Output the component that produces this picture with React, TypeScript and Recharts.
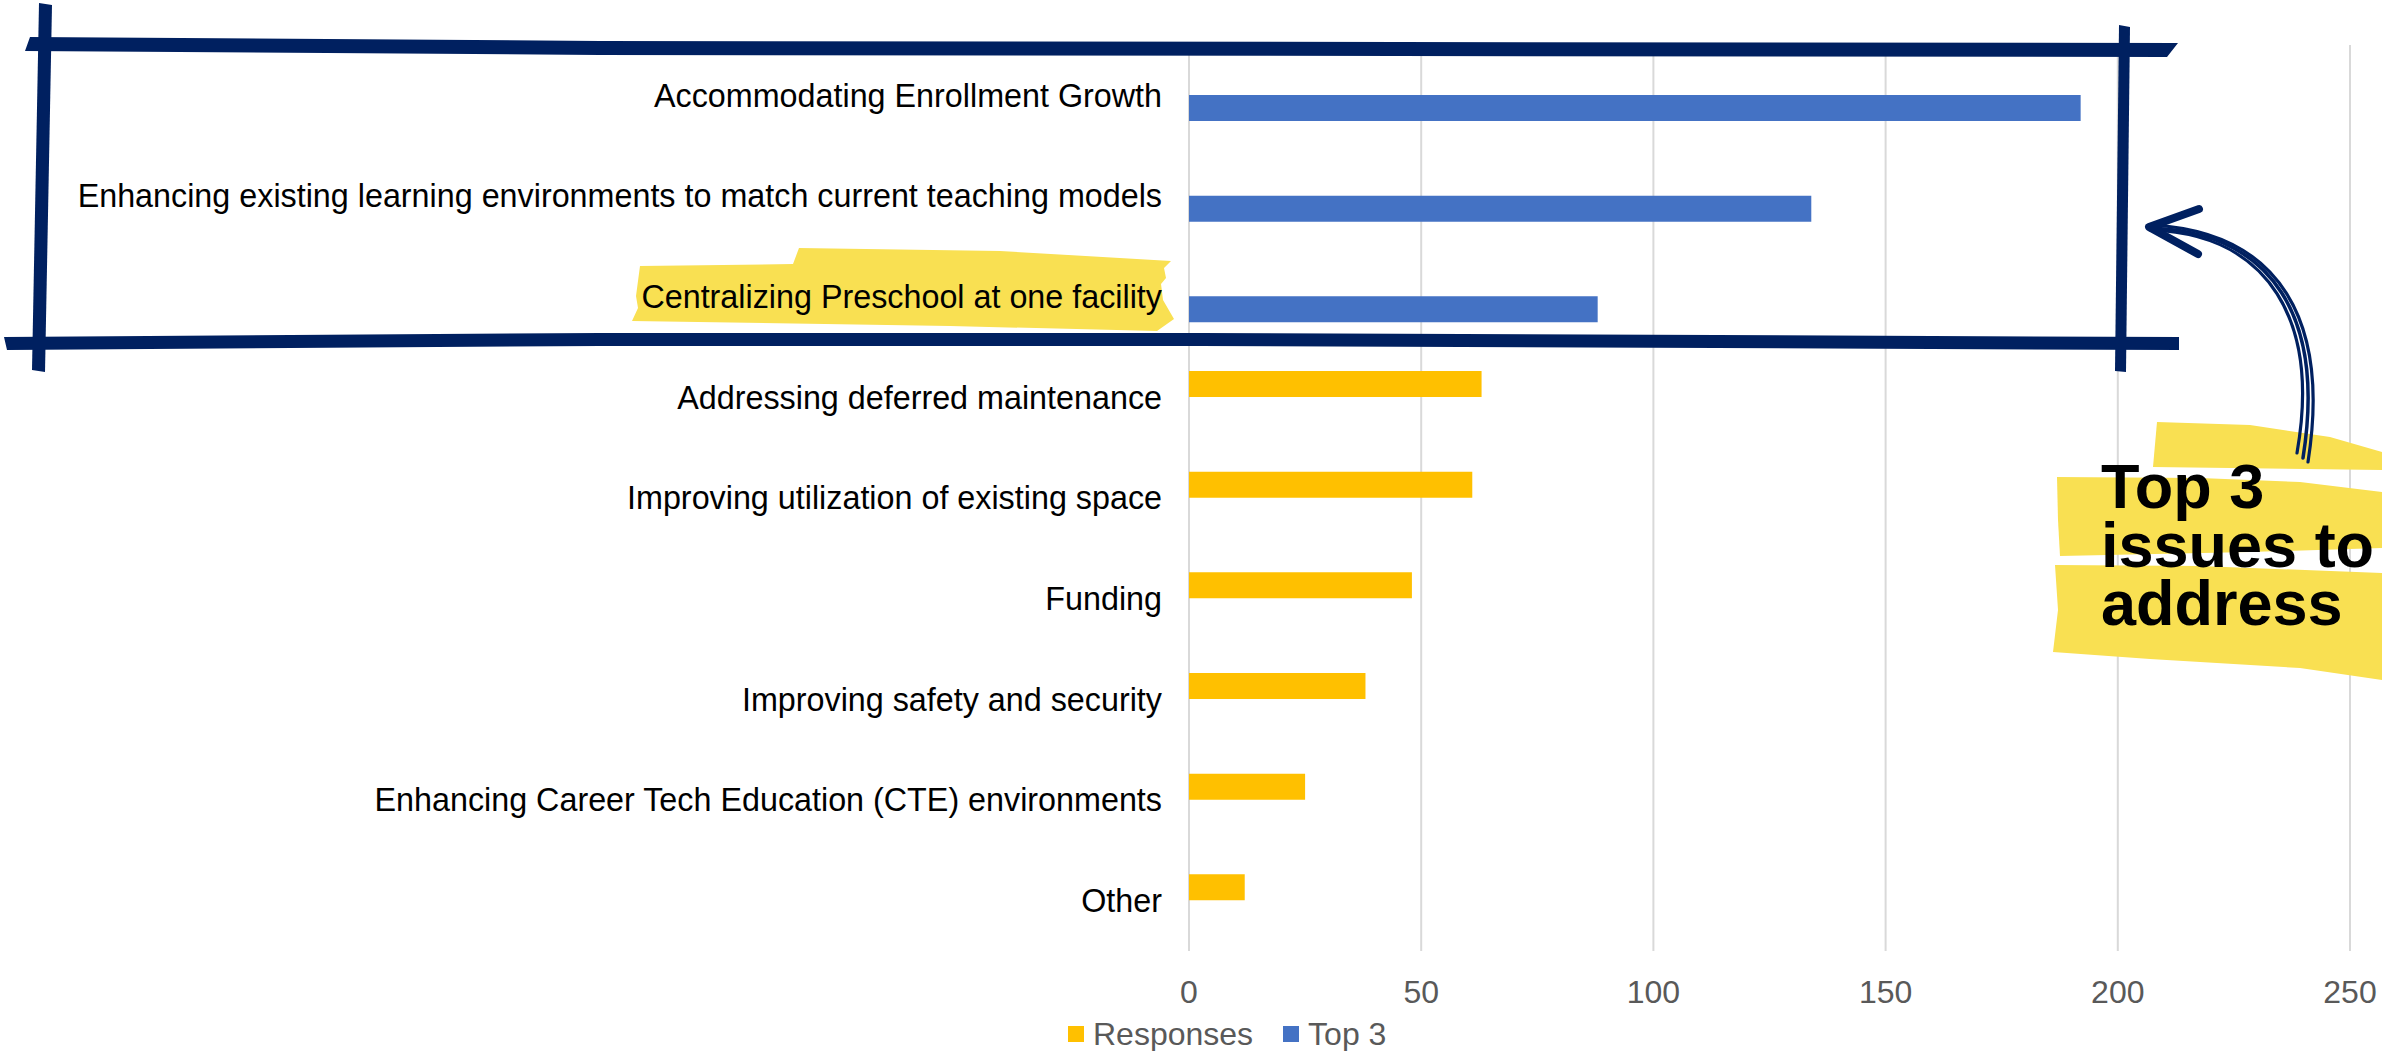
import React from 'react';
import { BarChart, Bar, XAxis, YAxis, CartesianGrid, Legend } from 'recharts';

const categories = [
  'Accommodating Enrollment Growth',
  'Enhancing existing learning environments to match current teaching models',
  'Centralizing Preschool at one facility',
  'Addressing deferred maintenance',
  'Improving utilization of existing space',
  'Funding',
  'Improving safety and security',
  'Enhancing Career Tech Education (CTE) environments',
  'Other',
];
const responses = [null, null, null, 63, 61, 48, 38, 25, 12];
const top3 = [192, 134, 88, null, null, null, null, null, null];
const xTicks = [0, 50, 100, 150, 200, 250];
const seriesNames = ['Responses', 'Top 3'];
const seriesColors = ['#FFC000', '#4472C4'];
const calloutLines = ['Top 3', 'issues to', 'address'];

const data = categories.map((name, i) => ({
  name,
  responses: responses[i],
  top3: top3[i],
}));

const NAVY = '#002060';
const HILITE = '#F9E052';
const W = 2382;
const H = 1051;

const YTick = (props: any) => {
  const { x, y, payload } = props;
  return (
    <text x={x} y={y} dy={11.4} textAnchor="end" fontSize={32.3} fill="#000000">
      {payload.value}
    </text>
  );
};

const LegendContent = (props: any) => {
  const items = props.payload || [];
  return (
    <div style={{ display: 'flex', alignItems: 'center', height: 36, lineHeight: '36px' }}>
      {items.map((it: any, i: number) => (
        <div key={i} style={{ display: 'flex', alignItems: 'center', marginRight: i === 0 ? 30 : 0 }}>
          <div style={{ width: 16, height: 16, background: it.color, marginRight: 9 }} />
          <span style={{ fontSize: 32, color: '#595959' }}>{it.value}</span>
        </div>
      ))}
    </div>
  );
};

const pts = (a: number[][]) => a.map((p) => p.join(',')).join(' ');

export default function App() {
  return (
    <div
      style={{
        position: 'absolute',
        left: 0,
        top: 0,
        width: W,
        height: H,
        background: '#ffffff',
        fontFamily: '"Liberation Sans", Arial, Helvetica, sans-serif',
        overflow: 'hidden',
      }}
    >
      <svg width={W} height={H} style={{ position: 'absolute', left: 0, top: 0 }}>
        <polygon
          fill={HILITE}
          points={pts([
            [799, 248], [1000, 251], [1171, 261], [1164, 268], [1166, 278], [1161, 284],
            [1163, 300], [1174, 319], [1157, 331], [950, 326], [632, 321], [638, 308],
            [636, 296], [640, 266], [793, 264],
          ])}
        />
      </svg>
      <div style={{ position: 'absolute', left: 0, top: 0 }}>
        <BarChart
          width={W}
          height={H}
          data={data}
          layout="vertical"
          margin={{ top: 45, right: 32, bottom: 0, left: 0 }}
          barSize={26}
          barGap={0}
        >
          <CartesianGrid horizontal={false} stroke="#D9D9D9" strokeWidth={2} />
          <XAxis
            type="number"
            domain={[0, 250]}
            ticks={xTicks}
            interval={0}
            axisLine={false}
            tickLine={false}
            tickSize={0}
            tickMargin={29}
            height={100}
            tick={{ fill: '#595959', fontSize: 32 }}
          />
          <YAxis
            type="category"
            dataKey="name"
            width={1189}
            interval={0}
            axisLine={false}
            tickLine={false}
            tickSize={0}
            tickMargin={27}
            tick={<YTick />}
          />
          <Legend
            layout="horizontal"
            verticalAlign="middle"
            align="center"
            wrapperStyle={{ top: 1016, left: 1068, width: 420, height: 36 }}
            content={<LegendContent />}
          />
          <Bar dataKey="responses" name={seriesNames[0]} fill={seriesColors[0]} isAnimationActive={false} />
          <Bar dataKey="top3" name={seriesNames[1]} fill={seriesColors[1]} isAnimationActive={false} />
        </BarChart>
      </div>
      <svg width={W} height={H} style={{ position: 'absolute', left: 0, top: 0, pointerEvents: 'none' }}>
        {/* callout highlight strips */}
        <polygon fill={HILITE} points={pts([[2157, 422], [2250, 425], [2330, 437], [2382, 452], [2382, 470], [2153, 467]])} />
        <polygon
          fill={HILITE}
          points={pts([[2057, 477], [2200, 478], [2300, 482], [2382, 492], [2382, 548], [2250, 552], [2060, 556], [2058, 520]])}
        />
        <polygon
          fill={HILITE}
          points={pts([[2055, 565], [2200, 566], [2382, 573], [2382, 680], [2300, 668], [2150, 659], [2053, 652], [2058, 610]])}
        />
        {calloutLines.map((t, i) => (
          <text key={i} x={2101} y={508 + i * 58.5} fontSize={63} fontWeight="bold" fill="#000000">
            {t}
          </text>
        ))}
        {/* arrow */}
        <g fill="none" stroke={NAVY} strokeLinecap="round" strokeLinejoin="round">
          <path d="M2150,228 C2275,232 2325,320 2303,458" strokeWidth={3.5} />
          <path d="M2152,225 C2281,232 2330,322 2308,462" strokeWidth={3.2} />
          <path d="M2150,230 C2270,234 2320,322 2297,453" strokeWidth={3.2} />
          <path d="M2199,209 L2149,227 L2198,254" strokeWidth={8} />
        </g>
        {/* hand-drawn frame */}
        <polygon fill={NAVY} points={pts([[30, 37], [600, 41], [2178, 43], [2167, 57], [600, 55], [25, 51]])} />
        <polygon fill={NAVY} points={pts([[39, 3], [52, 5], [45, 372], [32, 370]])} />
        <polygon
          fill={NAVY}
          points={pts([[4, 337], [600, 333], [1200, 333], [2179, 337], [2179, 350], [1200, 346], [600, 346], [7, 350]])}
        />
        <polygon fill={NAVY} points={pts([[2119, 25], [2130, 27], [2126, 372], [2115, 371]])} />
      </svg>
    </div>
  );
}
